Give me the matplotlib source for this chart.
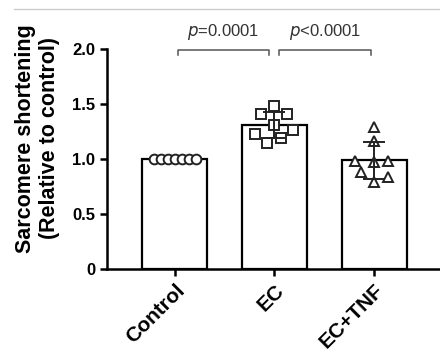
import numpy as np
import matplotlib.pyplot as plt
from matplotlib.lines import Line2D

plt.rcParams['font.family'] = ['Liberation Sans', 'DejaVu Sans']

# Datos del gráfico
groups = ['Control', 'EC', 'EC+TNF']
control_vals = [1.0, 1.0, 1.0, 1.0, 1.0, 1.0, 1.0]
ec_vals = [1.48, 1.41, 1.41, 1.31, 1.23, 1.26, 1.19, 1.15]
tnf_vals = [1.29, 1.16, 0.985, 0.97, 0.985, 0.885, 0.84, 0.79]
y_ticks = [0, 0.5, 1.0, 1.5, 2.0]
y_tick_labels = ['0', '0.5', '1.0', '1.5', '2.0']
p_labels = ['=0.0001', '<0.0001']

# Desplazamiento horizontal de los puntos dentro de cada barra
control_dx = [-0.21, -0.14, -0.07, 0.0, 0.07, 0.14, 0.21]
ec_dx = [0.0, -0.13, 0.13, 0.0, -0.2, 0.19, 0.07, -0.07]
tnf_dx = [0.0, 0.0, -0.19, 0.0, 0.14, -0.13, 0.14, 0.0]

series = [control_vals, ec_vals, tnf_vals]
offsets = [control_dx, ec_dx, tnf_dx]
markers = ['o', 's', '^']

means = [np.mean(v) for v in series]
sds = [np.std(v, ddof=1) for v in series]

fig = plt.figure(figsize=(4.4, 3.55), dpi=100)
ax = fig.add_axes([0.243, 0.242, 0.757, 0.62])

x = np.arange(len(groups))
ax.bar(x, means, width=0.65, color='white', edgecolor='black', linewidth=1.6, zorder=1)

for i, (vals, dx, m) in enumerate(zip(series, offsets, markers)):
    ax.plot(i + np.array(dx), vals, linestyle='none', marker=m, markersize=7,
            markerfacecolor='white', markeredgecolor='#222222', markeredgewidth=1.4, zorder=3)
    if sds[i] > 0:
        ax.errorbar(i, means[i], yerr=sds[i], color='#222222', linewidth=1.4,
                    capsize=8, capthick=1.4, zorder=4)

ax.set_xlim(-0.68, 2.66)
ax.set_ylim(0, 2.0)
ax.set_yticks(y_ticks)
ax.set_yticklabels(y_tick_labels, fontsize=12, fontweight='bold')
ax.set_xticks(x)
ax.set_xticklabels(groups, rotation=45, ha='right', rotation_mode='anchor',
                   fontsize=15, fontweight='bold')

for s in ['top', 'right']:
    ax.spines[s].set_visible(False)
for s in ['left', 'bottom']:
    ax.spines[s].set_linewidth(1.8)
ax.tick_params(axis='both', width=1.8, length=5, direction='out')

# Corchetes de significancia
brackets = [(0.03, 0.95), (1.05, 1.97)]
for (x0, x1), lab in zip(brackets, p_labels):
    ax.plot([x0, x0, x1, x1], [1.945, 1.99, 1.99, 1.945], color='#555555',
            linewidth=1.1, clip_on=False)
    ax.text((x0 + x1) / 2, 2.06, r'$\it{p}$' + lab, ha='center', va='bottom',
            fontsize=12, color='#333333', clip_on=False)

fig.text(0.085, 0.61, 'Sarcomere shortening\n(Relative to control)', rotation=90,
         ha='center', va='center', fontsize=15.5, fontweight='bold', linespacing=1.2)

# Línea gris superior
fig.add_artist(Line2D([14 / 440, 1.0], [1 - 9 / 355, 1 - 9 / 355], color='#cccccc', linewidth=1))

fig.savefig('out.png', dpi=100)
